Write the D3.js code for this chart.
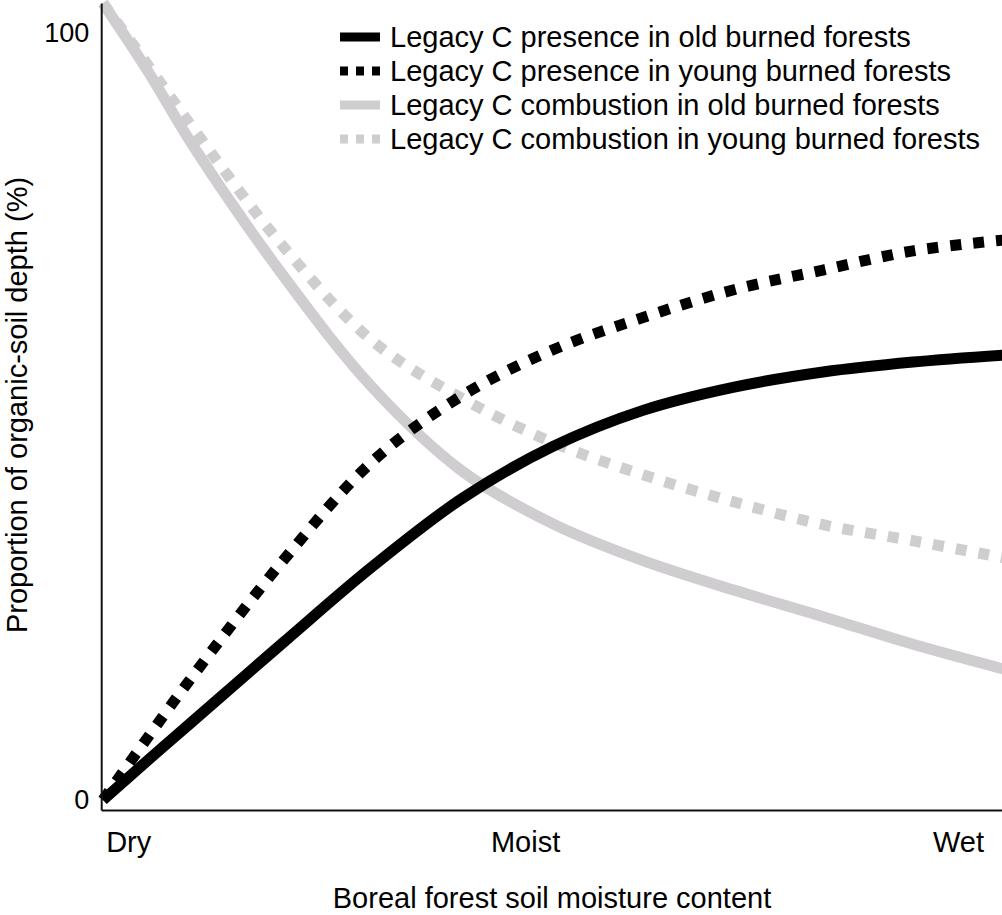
<!DOCTYPE html>
<html>
<head>
<meta charset="utf-8">
<script src="https://cdn.jsdelivr.net/npm/d3@7"></script>
<style>
  body { margin: 0; background: #fff; }
  text { font-family: "Liberation Sans", Arial, Helvetica, sans-serif; fill: #000; }
</style>
</head>
<body>
<svg id="chart" width="1002" height="915"></svg>
<script>
// moisture position (0 = driest, 100 = wettest)
var moisture = [0, 5, 10, 20, 30, 40, 50, 60, 70, 80, 90, 100];

// proportion of organic-soil depth (%)
var presenceOld    = [0, 5.2, 10.3, 20.5, 30.5, 39.4, 46.1, 50.8, 53.8, 55.8, 57.1, 58.0];
var presenceYoung  = [0, 8.2, 16.2, 31.2, 44.2, 52.8, 58.7, 62.9, 66.5, 69.1, 71.6, 73.0];
var combustOld     = [103.9, 95.0, 85.3, 68.4, 53.7, 42.8, 36.0, 31.2, 27.4, 23.9, 20.3, 17.1];
var combustYoung   = [103.9, 95.8, 87.6, 72.2, 59.8, 52.3, 46.6, 42.4, 38.9, 35.9, 33.8, 31.6];

var seriesNames = [
  "Legacy C presence in old burned forests",
  "Legacy C presence in young burned forests",
  "Legacy C combustion in old burned forests",
  "Legacy C combustion in young burned forests"
];

var xTickLabels = ["Dry", "Moist", "Wet"];
var xTickPos = [2.8, 46.9, 95];
var yTicks = [0, 100];

var grey = "#cfcdcf";
var series = [
  { name: seriesNames[0], values: presenceOld,   color: "#000", dash: null },
  { name: seriesNames[1], values: presenceYoung, color: "#000", dash: "11,12" },
  { name: seriesNames[2], values: combustOld,    color: grey,   dash: null },
  { name: seriesNames[3], values: combustYoung,  color: grey,   dash: "11,12" }
];

var font = '"Liberation Sans", Arial, Helvetica, sans-serif';
var svg = d3.select("#chart");

var x = d3.scaleLinear().domain([0, 100]).range([103, 1003]);
var y = d3.scaleLinear().domain([0, 100]).range([800, 33]);

// axis frames run a bit past the data range, like the original
var xAxisScale = x.copy().domain([-0.2, 99.9]).range([x(-0.2), x(99.9)]);
var yAxisScale = y.copy().domain([-1.3, 103.9]).range([y(-1.3), y(103.9)]);

var line = d3.line()
    .x(function(d) { return x(d[0]); })
    .y(function(d) { return y(d[1]); })
    .curve(d3.curveCatmullRom.alpha(0.5));

// draw grey first so black sits on top
var drawOrder = [2, 3, 0, 1];
drawOrder.forEach(function(i) {
  var s = series[i];
  var pts = moisture.map(function(m, j) { return [m, s.values[j]]; });
  svg.append("path")
      .datum(pts)
      .attr("d", line)
      .attr("fill", "none")
      .attr("stroke", s.color)
      .attr("stroke-width", 11)
      .attr("stroke-dasharray", s.dash);
});

// axes
var yAxis = svg.append("g")
    .attr("transform", "translate(" + xAxisScale(-0.2) + ",0)")
    .call(d3.axisLeft(yAxisScale).tickValues(yTicks).tickSize(0).tickPadding(12)
      .tickFormat(d3.format("d")));

var xAxis = svg.append("g")
    .attr("transform", "translate(0," + yAxisScale(-1.3) + ")")
    .call(d3.axisBottom(xAxisScale).tickValues(xTickPos).tickSize(0).tickPadding(21)
      .tickFormat(function(d, i) { return xTickLabels[i]; }));

[xAxis, yAxis].forEach(function(a) {
  a.select(".domain").attr("stroke", "#111").attr("stroke-width", 2);
  a.selectAll("text").style("font-family", font);
});
yAxis.selectAll("text").style("font-size", "27px");
xAxis.selectAll("text").style("font-size", "29px");

// axis titles
svg.append("text")
    .attr("x", 552)
    .attr("y", 908)
    .attr("text-anchor", "middle")
    .style("font-size", "29px")
    .text("Boreal forest soil moisture content");

svg.append("text")
    .attr("transform", "translate(27,405) rotate(-90)")
    .attr("text-anchor", "middle")
    .style("font-size", "29px")
    .text("Proportion of organic-soil depth (%)");

// legend
var legend = svg.append("g").attr("transform", "translate(340,37)");

var item = legend.selectAll(".item")
    .data(series)
  .enter().append("g")
    .attr("class", "item")
    .attr("transform", function(d, i) { return "translate(0," + i * 34 + ")"; });

item.append("line")
    .attr("x1", 0).attr("x2", 40)
    .attr("stroke", function(d) { return d.color; })
    .attr("stroke-width", 9)
    .attr("stroke-dasharray", function(d) { return d.dash ? "8,8" : null; });

item.append("text")
    .attr("x", 50)
    .attr("dy", "0.35em")
    .style("font-size", "29px")
    .text(function(d) { return d.name; });
</script>
</body>
</html>
